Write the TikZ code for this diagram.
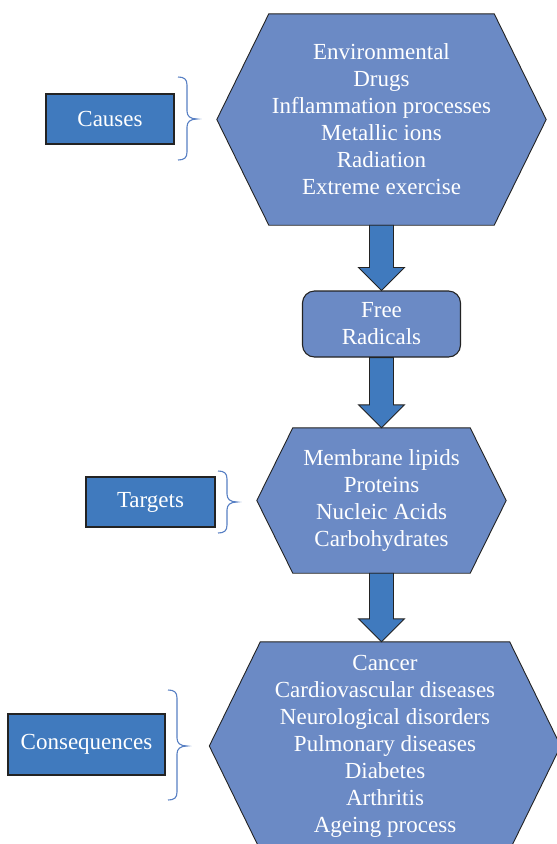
\documentclass[tikz,border=0pt]{standalone}
\usepackage{fontspec}
\setmainfont{Liberation Serif}
\usetikzlibrary{calc,backgrounds}

\definecolor{hexfill}{RGB}{107,138,197}
\definecolor{boxfill}{RGB}{64,122,190}
\definecolor{edgeline}{RGB}{35,35,35}
\definecolor{braceline}{RGB}{88,128,196}

% block arrow from the bottom of one node to the top of the next
\newcommand\blockarrow[2]{%
  \draw[blockarrow]
    ($(#1.south)+(-12,0)$) --
    ($(#1.south |- #2.north)+(-12,-23)$) --
    ($(#1.south |- #2.north)+(-23,-23)$) --
    (#1.south |- #2.north) --
    ($(#1.south |- #2.north)+(23,-23)$) --
    ($(#1.south |- #2.north)+(12,-23)$) --
    ($(#1.south)+(12,0)$) -- cycle;}

% pointed hexagon round a text node, #2 = horizontal inset of the top corners
\newcommand\hexoutline[2]{%
  \draw[hexagonbody]
    (#1.west) -- ($(#1.north west)+(#2,0)$) -- ($(#1.north east)+(-#2,0)$) --
    (#1.east) -- ($(#1.south east)+(-#2,0)$) -- ($(#1.south west)+(#2,0)$) -- cycle;}

% curly brace opening to the left, tip pointing right
\newcommand\sidebrace[3]{%
  \draw[bracestroke]
    (#1) .. controls ($(#1)+(6,0)$) and ($(#1)+(9,2)$) .. ($(#1)+(9,8)$) --
    ($(#1 |- #3)+(9,-8)$) .. controls ($(#1 |- #3)+(9,-3)$) and ($(#1 |- #3)+(12,0)$) .. (#3) ..
    controls ($(#1 |- #3)+(12,0)$) and ($(#1 |- #3)+(9,3)$) .. ($(#1 |- #3)+(9,8)$) --
    ($(#2)+(9,-8)$) .. controls ($(#2)+(9,-2)$) and ($(#2)+(6,0)$) .. (#2);}

\tikzset{
  maintext/.style={font=\fontsize{23}{27}\selectfont, text=white, align=center, inner sep=0pt},
  hextext/.style={maintext},
  hexagonbody/.style={fill=hexfill, draw=edgeline, line width=0.9pt, line join=miter},
  labelbox/.style={maintext, fill=boxfill, draw=edgeline, line width=1.1pt},
  radicalbox/.style={maintext, fill=hexfill, draw=edgeline, line width=1.1pt, rounded corners=12pt},
  blockarrow/.style={fill=boxfill, draw=edgeline, line width=0.9pt, line join=miter},
  bracestroke/.style={draw=braceline, line width=1.1pt},
}

\begin{document}
\begin{tikzpicture}[x=1pt,y=-1pt]
\useasboundingbox (0,0) rectangle (557,844);
\clip (0,0) rectangle (557,844);

% main chain
\node[hextext, minimum width=329pt, minimum height=211pt] (h1) at (381.5,119.5)
  {Environmental\\Drugs\\Inflammation processes\\Metallic ions\\Radiation\\Extreme exercise};
\node[radicalbox, minimum width=158pt, minimum height=66pt] (fr) at (381.5,324) {Free\\Radicals};
\node[hextext, minimum width=249pt, minimum height=145pt] (h2) at (381.5,500.5)
  {Membrane lipids\\Proteins\\Nucleic Acids\\Carbohydrates};
\node[hextext, minimum width=351pt, minimum height=208pt] (h3) at (385,746)
  {Cancer\\Cardiovascular diseases\\Neurological disorders\\Pulmonary diseases\\Diabetes\\Arthritis\\Ageing process};

\begin{pgfonlayer}{background}
  \fill[white] (0,0) rectangle (557,844);
  \hexoutline{h1}{52}
  \hexoutline{h2}{36}
  \hexoutline{h3}{51}
\end{pgfonlayer}

\blockarrow{h1}{fr}
\blockarrow{fr}{h2}
\blockarrow{h2}{h3}

% side labels
\node[labelbox, minimum width=128pt, minimum height=50pt] (causes) at (110,119) {Causes};
\node[labelbox, minimum width=129pt, minimum height=50pt] (targets) at (150.5,502) {Targets};
\node[labelbox, minimum width=157pt, minimum height=61pt] (conseq) at (86.5,744.5) {Consequences};

% braces
\coordinate (b1top) at (178,77);  \coordinate (b1bot) at (178,160); \coordinate (b1tip) at (197,119);
\coordinate (b2top) at (218,471); \coordinate (b2bot) at (218,533); \coordinate (b2tip) at (237,502);
\coordinate (b3top) at (168,690); \coordinate (b3bot) at (168,800); \coordinate (b3tip) at (187,746);
\sidebrace{b1top}{b1bot}{b1tip}
\sidebrace{b2top}{b2bot}{b2tip}
\sidebrace{b3top}{b3bot}{b3tip}
\end{tikzpicture}
\end{document}
